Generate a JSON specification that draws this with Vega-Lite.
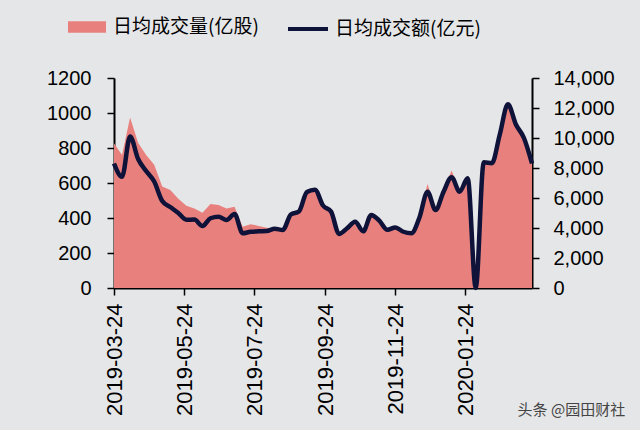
{
  "$schema": "https://vega.github.io/schema/vega-lite/v6.json",
  "width": 418,
  "height": 210,
  "autosize": {"type": "none"},
  "padding": {"left": 114, "top": 78, "right": 108, "bottom": 142},
  "background": "#e5e6e8",
  "config": {
    "view": {"stroke": null},
    "font": "Liberation Sans",
    "axis": {"domainColor": "#000000", "domainWidth": 2, "tickColor": "#000000", "tickWidth": 1.5, "tickSize": 7, "labelColor": "#000000", "grid": false, "title": null},
    "legend": {"labelFont": "Noto Sans CJK SC", "labelFontSize": 19, "labelColor": "#000000", "symbolOpacity": 1}
  },
  "title": {"text": "头条 @园田财社", "orient": "bottom", "anchor": "end", "font": "Noto Sans CJK SC", "fontSize": 15, "fontWeight": "normal", "color": "#444444", "offset": -13, "dx": 11},
  "data": {"values": [
    {"date": "2019-03-24", "vol": 827, "amt": 8300},
    {"date": "2019-03-31", "vol": 760, "amt": 7420},
    {"date": "2019-04-07", "vol": 975, "amt": 10100},
    {"date": "2019-04-14", "vol": 830, "amt": 8600},
    {"date": "2019-04-21", "vol": 760, "amt": 7800},
    {"date": "2019-04-28", "vol": 705, "amt": 7100},
    {"date": "2019-05-05", "vol": 580, "amt": 5800},
    {"date": "2019-05-12", "vol": 560, "amt": 5400},
    {"date": "2019-05-19", "vol": 510, "amt": 5000},
    {"date": "2019-05-26", "vol": 470, "amt": 4550},
    {"date": "2019-06-02", "vol": 455, "amt": 4560},
    {"date": "2019-06-09", "vol": 430, "amt": 4130},
    {"date": "2019-06-16", "vol": 480, "amt": 4650},
    {"date": "2019-06-23", "vol": 475, "amt": 4750},
    {"date": "2019-06-30", "vol": 455, "amt": 4530},
    {"date": "2019-07-07", "vol": 465, "amt": 4930},
    {"date": "2019-07-14", "vol": 350, "amt": 3650},
    {"date": "2019-07-21", "vol": 365, "amt": 3750},
    {"date": "2019-07-28", "vol": 355, "amt": 3780},
    {"date": "2019-08-04", "vol": 345, "amt": 3800},
    {"date": "2019-08-11", "vol": 340, "amt": 3950},
    {"date": "2019-08-18", "vol": 340, "amt": 3870},
    {"date": "2019-08-25", "vol": 425, "amt": 4900},
    {"date": "2019-09-01", "vol": 445, "amt": 5100},
    {"date": "2019-09-08", "vol": 555, "amt": 6400},
    {"date": "2019-09-15", "vol": 565, "amt": 6550},
    {"date": "2019-09-22", "vol": 475, "amt": 5500},
    {"date": "2019-09-29", "vol": 440, "amt": 5100},
    {"date": "2019-10-06", "vol": 310, "amt": 3600},
    {"date": "2019-10-13", "vol": 345, "amt": 3980},
    {"date": "2019-10-20", "vol": 380, "amt": 4420},
    {"date": "2019-10-27", "vol": 325, "amt": 3780},
    {"date": "2019-11-03", "vol": 420, "amt": 4870},
    {"date": "2019-11-10", "vol": 390, "amt": 4490},
    {"date": "2019-11-17", "vol": 335, "amt": 3880},
    {"date": "2019-11-24", "vol": 350, "amt": 4040},
    {"date": "2019-12-01", "vol": 328, "amt": 3750},
    {"date": "2019-12-08", "vol": 320, "amt": 3650},
    {"date": "2019-12-15", "vol": 410, "amt": 4700},
    {"date": "2019-12-22", "vol": 595, "amt": 6420},
    {"date": "2019-12-29", "vol": 455, "amt": 5200},
    {"date": "2020-01-05", "vol": 560, "amt": 6420},
    {"date": "2020-01-12", "vol": 672, "amt": 7380},
    {"date": "2020-01-19", "vol": 555, "amt": 6420},
    {"date": "2020-01-26", "vol": 630, "amt": 7310},
    {"date": "2020-02-02", "vol": 0, "amt": 0},
    {"date": "2020-02-09", "vol": 720, "amt": 8380},
    {"date": "2020-02-16", "vol": 715, "amt": 8320},
    {"date": "2020-02-23", "vol": 885, "amt": 10250},
    {"date": "2020-03-01", "vol": 1050, "amt": 12250},
    {"date": "2020-03-08", "vol": 945, "amt": 10900},
    {"date": "2020-03-15", "vol": 880, "amt": 10000},
    {"date": "2020-03-22", "vol": 715, "amt": 8300}
  ]},
  "encoding": {
    "x": {
      "field": "date", "type": "temporal",
      "scale": {"type": "utc", "domain": [{"year": 2019, "month": 3, "date": 24, "utc": true}, {"year": 2020, "month": 3, "date": 22, "utc": true}]},
      "axis": {
        "values": [
          {"year": 2019, "month": 3, "date": 24, "utc": true},
          {"year": 2019, "month": 5, "date": 24, "utc": true},
          {"year": 2019, "month": 7, "date": 24, "utc": true},
          {"year": 2019, "month": 9, "date": 24, "utc": true},
          {"year": 2019, "month": 11, "date": 24, "utc": true},
          {"year": 2020, "month": 1, "date": 24, "utc": true}
        ],
        "format": "%Y-%m-%d", "labelAngle": -90, "labelFontSize": 22, "labelPadding": 8, "labelOverlap": false, "labelFlush": false
      }
    }
  },
  "layer": [
    {
      "mark": {"type": "area", "interpolate": "linear"},
      "encoding": {
        "y": {"field": "vol", "type": "quantitative", "scale": {"domain": [0, 1200], "nice": false},
          "axis": {"orient": "left", "values": [0, 200, 400, 600, 800, 1000, 1200], "format": "d", "labelFontSize": 20, "labelPadding": 16}},
        "fill": {"datum": "日均成交量(亿股)", "type": "nominal",
          "scale": {"range": ["#e8817e"]},
          "legend": {"orient": "none", "legendX": -46, "legendY": -70, "title": null, "symbolType": "M-1,-0.3H1V0.3H-1Z", "symbolSize": 1444, "symbolStrokeWidth": 0, "labelOffset": 7}}
      }
    },
    {
      "mark": {"type": "line", "interpolate": "monotone", "strokeWidth": 4.5},
      "encoding": {
        "y": {"field": "amt", "type": "quantitative", "scale": {"domain": [0, 14000], "nice": false},
          "axis": {"orient": "right", "values": [0, 2000, 4000, 6000, 8000, 10000, 12000, 14000], "format": ",d", "labelFontSize": 20, "labelPadding": 14}},
        "stroke": {"datum": "日均成交额(亿元)", "type": "nominal",
          "scale": {"range": ["#0f1239"]},
          "legend": {"orient": "none", "legendX": 172, "legendY": -71, "title": null, "symbolType": "stroke", "symbolSize": 1600, "symbolStrokeWidth": 4, "labelOffset": 5}}
      }
    }
  ],
  "resolve": {"scale": {"y": "independent"}}
}
